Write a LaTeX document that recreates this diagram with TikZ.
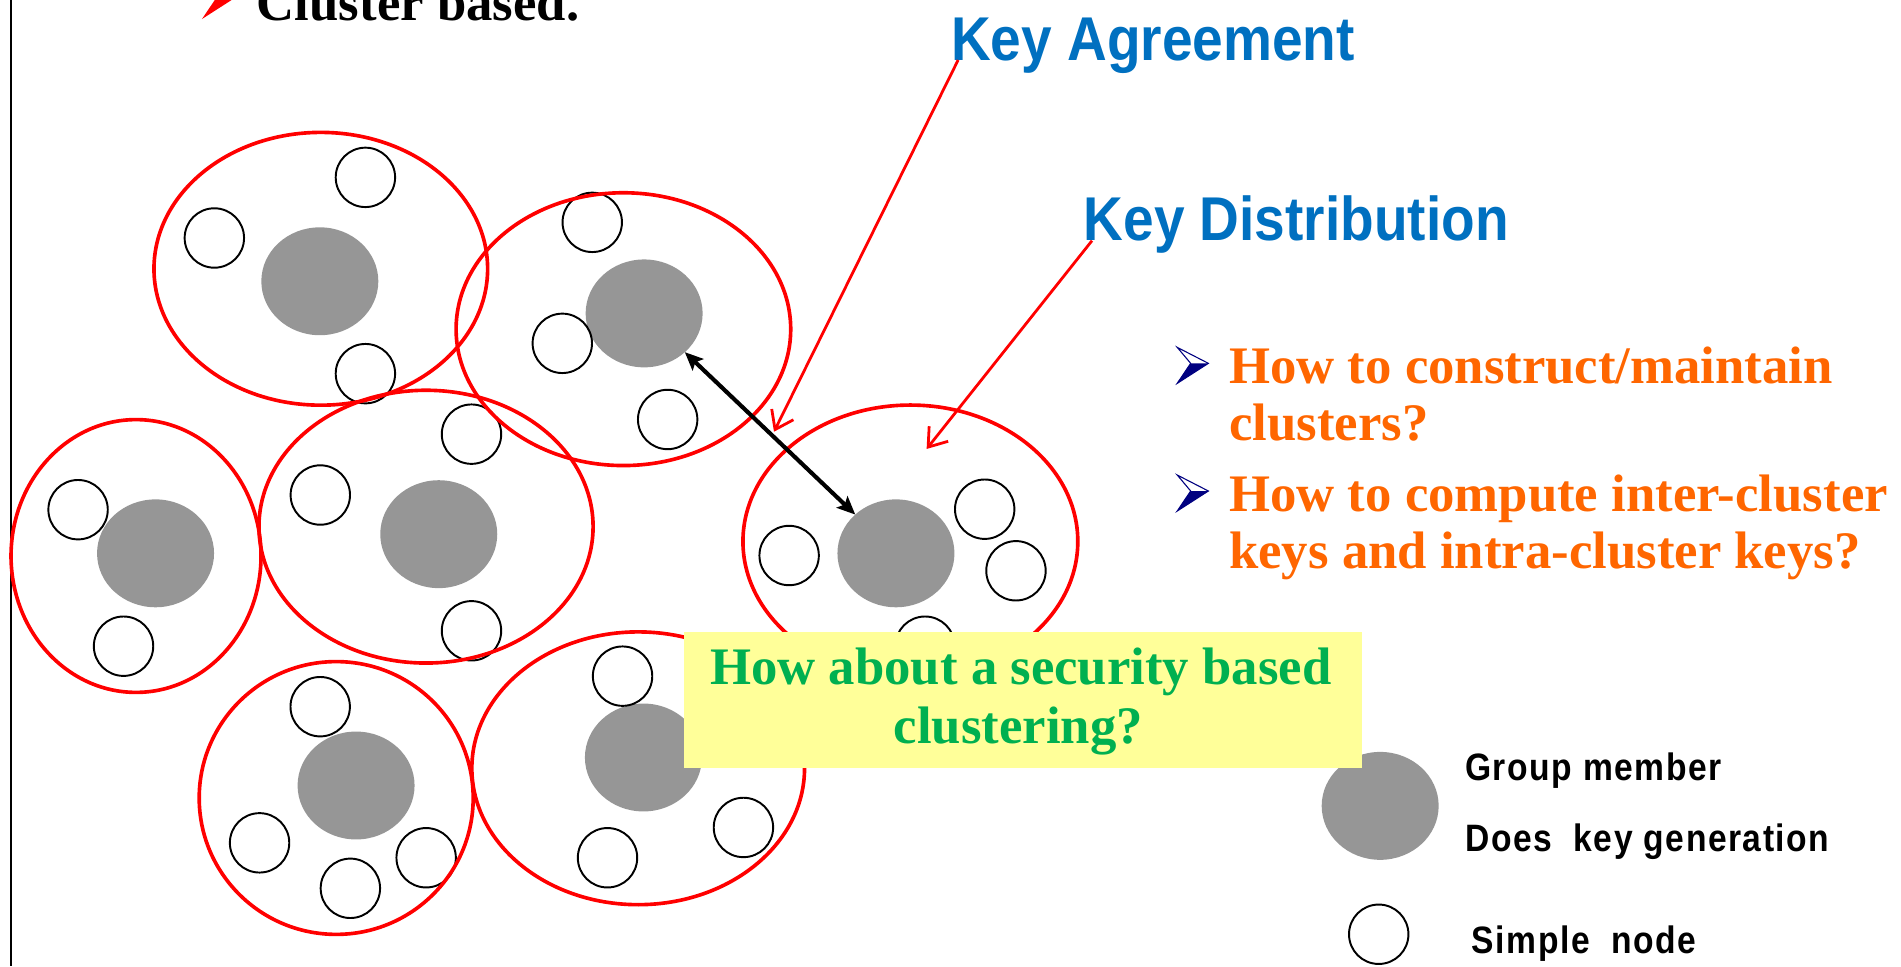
\documentclass[tikz,border=0pt]{standalone}
\usepackage{fontspec}
\setmainfont{Liberation Serif}
\newfontfamily\headfont[FakeStretch=0.89]{Liberation Sans Bold}
\newfontfamily\legendfont[FakeStretch=0.88,LetterSpace=4]{Liberation Sans Bold}
\usetikzlibrary{shapes.geometric,arrows.meta}
\definecolor{keyblue}{HTML}{0070C0}
\definecolor{askorange}{HTML}{FF6600}
\definecolor{askgreen}{HTML}{00B050}
\definecolor{notefill}{HTML}{FFFF99}
\definecolor{headgray}{HTML}{969696}
\definecolor{bulletnavy}{HTML}{000080}
\tikzset{
  cluster/.style={draw=red,line width=3pt,ellipse,minimum height=225pt,inner sep=0pt,outer sep=0pt},
  head/.style={fill=headgray,ellipse,minimum width=96.5pt,minimum height=89pt,inner sep=0pt,outer sep=0pt},
  member/.style={draw=black,line width=1.6pt,circle,minimum size=49pt,inner sep=0pt,outer sep=0pt},
  serifbold/.style={font=\fontsize{43.5}{46.8}\selectfont\bfseries,inner sep=0pt},
  question/.style={serifbold,text=askorange,anchor=base west},
  keylabel/.style={font=\headfont\fontsize{51}{55}\selectfont,text=keyblue,inner sep=0pt,anchor=base west},
  legendtext/.style={font=\legendfont\fontsize{31.5}{34}\selectfont,inner sep=0pt,anchor=base west},
  pointer/.style={draw=red,line width=2.3pt,-{Straight Barb[length=14pt,width=20pt]}},
  link/.style={draw=black,line width=3.4pt,{Stealth[length=15pt,width=13pt,inset=3pt]}-{Stealth[length=15pt,width=13pt,inset=3pt]}},
  pics/arrowbullet/.style 2 args={code={
    \fill[#2] (11.1,13.2) -- (25.7,13.2) -- (0,29.7) -- cycle;
    \draw[#1,line width=0.9pt,line join=miter] (0,0) -- (25.7,13.2) -- (0,29.7) -- (11.1,13.2) -- cycle;
  }},
}
\begin{document}
\begin{tikzpicture}[x=1pt,y=-1pt]
\useasboundingbox (0,0) rectangle (1568,797);
\clip (0,0) rectangle (1568,797);

% frame edge on the left
\draw[line width=1.6pt] (9.2,0) -- (9.2,797);

% heading line
\fill[red] (166.6,-14) -- (192.3,-0.8) -- (166.6,15.7) -- (177.7,-0.8) -- cycle;
\node[serifbold,anchor=base west] (title) at (211.7,16.8) {Cluster based.};

% cluster heads (key generators)
\node[head] (g1) at (263.8,232) {};
\node[head] (g2) at (531.3,258.5) {};
\node[head] (g3) at (128.3,456.4) {};
\node[head] (g4) at (361.9,440.6) {};
\node[head] (g5) at (739,456.4) {};
\node[head] (g6) at (293.7,647.9) {};
\node[head] (g7) at (530.7,624.8) {};

% simple nodes
\node[member] (m11) at (176.8,196.3) {};
\node[member] (m12) at (301.4,146.3) {};
\node[member] (m13) at (301.4,308.2) {};
\node[member] (m21) at (488.5,183.4) {};
\node[member] (m22) at (463.8,283.2) {};
\node[member] (m23) at (550.7,346) {};
\node[member] (m31) at (64.4,420.4) {};
\node[member] (m32) at (101.9,533) {};
\node[member] (m41) at (264.2,408.3) {};
\node[member] (m42) at (388.9,358.1) {};
\node[member] (m43) at (388.9,520.3) {};
\node[member] (m51) at (650.9,458.2) {};
\node[member] (m52) at (812.2,420) {};
\node[member] (m53) at (838,470.8) {};
\node[member] (m54) at (763,533) {};
\node[member] (m61) at (264.1,582.9) {};
\node[member] (m62) at (214.1,695.2) {};
\node[member] (m63) at (289,732.7) {};
\node[member] (m64) at (351.5,707.5) {};
\node[member] (m71) at (513.5,557.7) {};
\node[member] (m72) at (501.1,707.5) {};
\node[member] (m73) at (613.2,682.5) {};

% cluster boundaries
\node[cluster,minimum width=275.2pt] (c1) at (264.6,221.7) {};
\node[cluster,minimum width=276pt] (c2) at (514.2,271.5) {};
\node[cluster,minimum width=206.2pt] (c3) at (112.2,458.6) {};
\node[cluster,minimum width=275.6pt] (c4) at (351.4,434.4) {};
\node[cluster,minimum width=276.2pt] (c5) at (750.9,446.6) {};
\node[cluster,minimum width=226pt] (c6) at (277.3,658.2) {};
\node[cluster,minimum width=274.4pt] (c7) at (526.4,633.7) {};

% inter-cluster link
\draw[link] (g2) -- (g5);

% key labels with pointers
\node[keylabel] (ka) at (784.3,49.5) {Key Agreement};
\node[keylabel] (kd) at (893.7,198.5) {Key Distribution};
\coordinate (katip) at (638.4,356.1);
\coordinate (kdtip) at (764.3,370.3);
\draw[pointer] ([xshift=6pt]ka.base west) -- (katip);
\draw[pointer] ([xshift=7pt]kd.base west) -- (kdtip);

% open questions
\pic at (971,286.5) {arrowbullet={bulletnavy}{bulletnavy}};
\pic at (971,391.8) {arrowbullet={bulletnavy}{bulletnavy}};
\node[question] (q1a) at (1013.7,316.7) {How to construct/maintain};
\node[question] (q1b) at (1013.7,363.5) {clusters?};
\node[question] (q2a) at (1013.7,422) {How to compute inter-cluster};
\node[question] (q2b) at (1013.7,468.8) {keys and intra-cluster keys?};

% legend
\node[head] (lghead) at (1138.4,664.7) {};
\node[member] (lgnode) at (1137.2,770.6) {};
\node[legendtext] (lg1) at (1208.4,643.4) {Group member};
\node[legendtext] (lg2) at (1208.4,702) {Does~~key generation};
\node[legendtext] (lg3) at (1213.9,786.3) {Simple~~node};

% note box
\node[fill=notefill,minimum width=559.2pt,minimum height=112.2pt,inner sep=0pt,outer sep=0pt] (note) at (843.9,577.1) {};
\node[serifbold,text=askgreen,anchor=base] (n1) at (842,565) {How about a security based};
\node[serifbold,text=askgreen,anchor=base] (n2) at (840,613) {clustering?};
\end{tikzpicture}
\end{document}
